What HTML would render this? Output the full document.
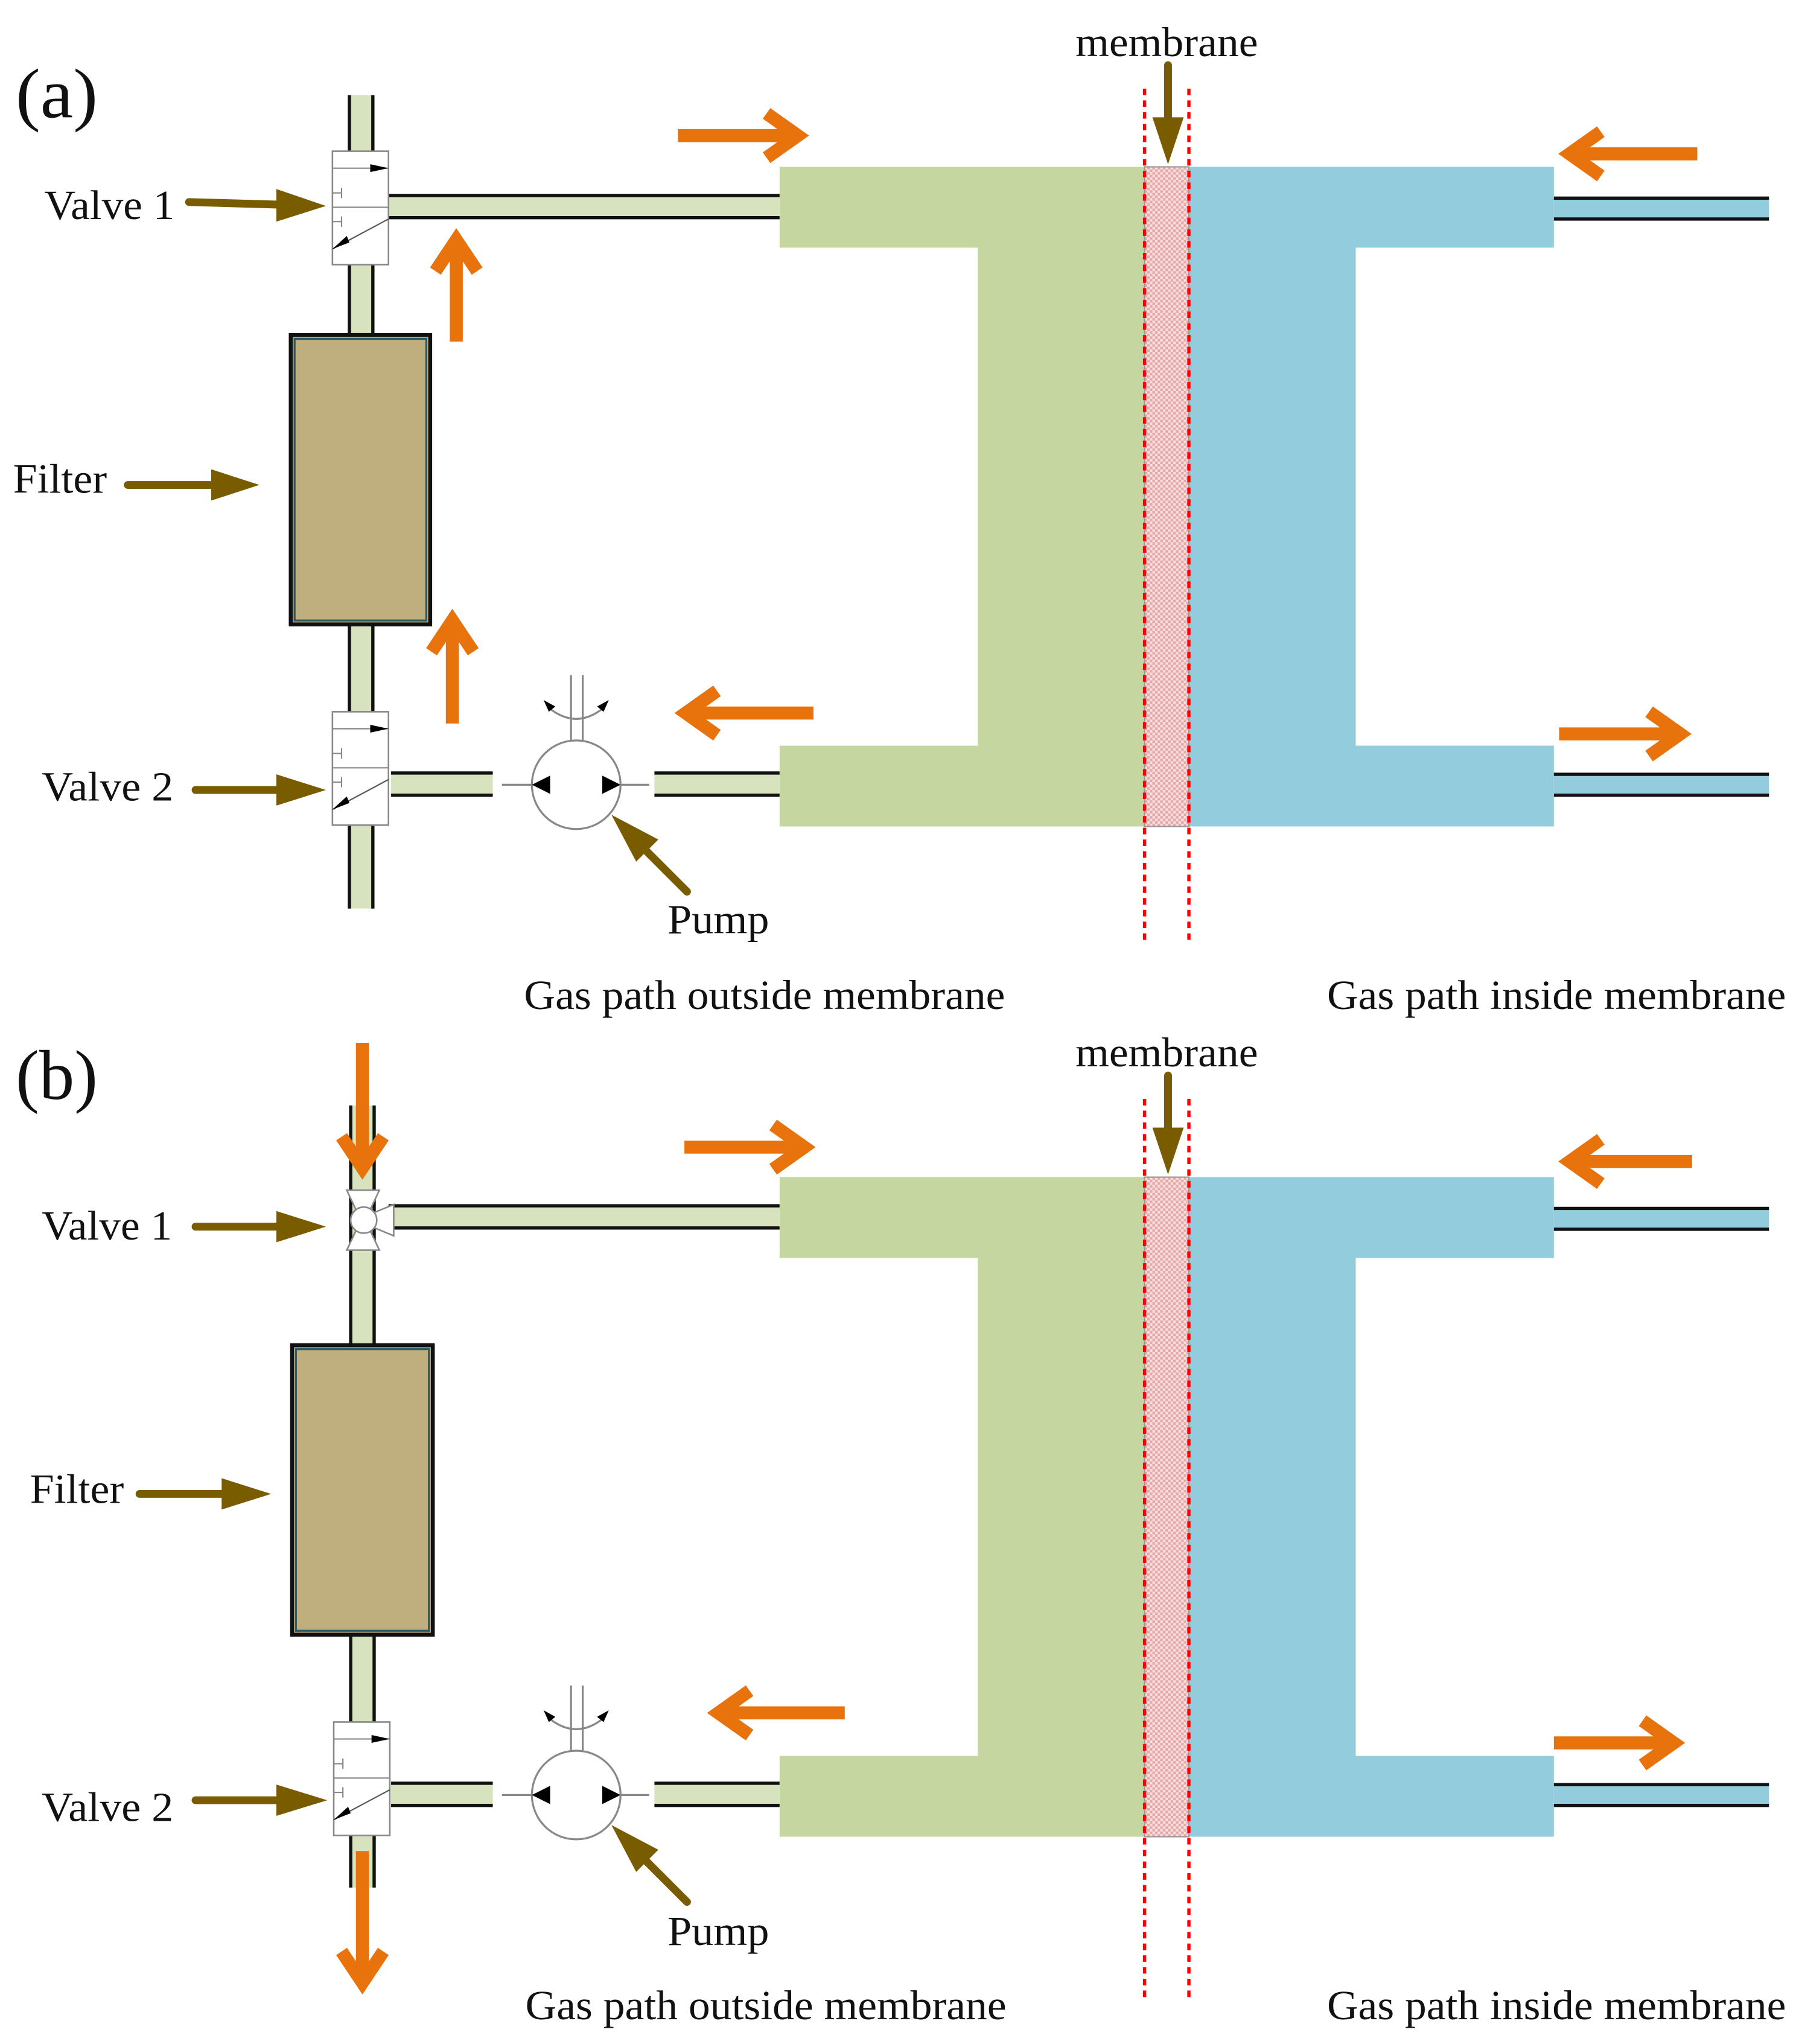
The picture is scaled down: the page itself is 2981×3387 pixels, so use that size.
<!DOCTYPE html>
<html><head><meta charset="utf-8"><style>html,body{margin:0;padding:0;background:#fff}svg{display:block}</style></head>
<body>
<svg width="2981" height="3387" viewBox="0 0 1380 1568" xmlns="http://www.w3.org/2000/svg" font-family="Liberation Serif, serif">
<defs>
<pattern id="hatch" width="4" height="4" patternUnits="userSpaceOnUse">
<rect width="4" height="4" fill="#f6dede"/><rect width="2" height="2" fill="#e6a8a8"/><rect x="2" y="2" width="2" height="2" fill="#e6a8a8"/>
</pattern>
<g id="common">
 <path d="M598 128 H878 V634 H598 V572 H750 V190 H598 Z" fill="#c5d6a0"/>
 <path d="M912 128 H1192 V190 H1040 V572 H1192 V634 H912 Z" fill="#93cddd"/>
 <rect x="878" y="128" width="34" height="506" fill="url(#hatch)" stroke="#999" stroke-width="1"/>
 <rect x="1192" y="152" width="165" height="16" fill="#93cddd"/>
 <line x1="1192" y1="152" x2="1357" y2="152" stroke="#111" stroke-width="2.5"/>
 <line x1="1192" y1="168" x2="1357" y2="168" stroke="#111" stroke-width="2.5"/>
 <rect x="1192" y="594" width="165" height="16" fill="#93cddd"/>
 <line x1="1192" y1="594" x2="1357" y2="594" stroke="#111" stroke-width="2.5"/>
 <line x1="1192" y1="610" x2="1357" y2="610" stroke="#111" stroke-width="2.5"/>
 <rect x="298" y="150" width="300" height="17" fill="#d7e3bf"/>
 <line x1="298" y1="150" x2="598" y2="150" stroke="#111" stroke-width="2.5"/>
 <line x1="298" y1="167" x2="598" y2="167" stroke="#111" stroke-width="2.5"/>
 <rect x="300" y="593" width="78" height="17" fill="#d7e3bf"/>
 <line x1="300" y1="593" x2="378" y2="593" stroke="#111" stroke-width="2.5"/>
 <line x1="300" y1="610" x2="378" y2="610" stroke="#111" stroke-width="2.5"/>
 <rect x="502" y="593" width="96" height="17" fill="#d7e3bf"/>
 <line x1="502" y1="593" x2="598" y2="593" stroke="#111" stroke-width="2.5"/>
 <line x1="502" y1="610" x2="598" y2="610" stroke="#111" stroke-width="2.5"/>
 <line x1="385" y1="602" x2="498" y2="602" stroke="#888" stroke-width="1.5"/>
 <circle cx="442" cy="602" r="34" fill="#fff" stroke="#888" stroke-width="1.5"/>
 <path d="M408 602 L422 595 L422 609 Z" fill="#000"/>
 <path d="M476 602 L462 595 L462 609 Z" fill="#000"/>
 <line x1="438" y1="568" x2="438" y2="518" stroke="#888" stroke-width="1.5"/>
 <line x1="447" y1="568" x2="447" y2="518" stroke="#888" stroke-width="1.5"/>
 <path d="M421 543 Q442 560 463 543" fill="none" stroke="#888" stroke-width="1.5"/>
 <path d="M417 537 L426 542 L421 546 Z" fill="#000"/>
 <path d="M467 537 L458 542 L463 546 Z" fill="#000"/>
 <g stroke="#7a5c00" stroke-width="6" stroke-linecap="round" fill="#7a5c00">
  <line x1="896" y1="50" x2="896" y2="92"/>
  <line x1="527" y1="684" x2="490" y2="647"/>
 </g>
 <path d="M884 90 L908 90 L896 126 Z" fill="#7a5c00"/>
 <path d="M469 625 L505 644 L488 661 Z" fill="#7a5c00"/>
</g>
<g id="valveA">
 <rect x="255" y="116" width="43" height="87" fill="#fff" stroke="#888" stroke-width="1.2"/>
 <line x1="255" y1="129" x2="298" y2="129" stroke="#888" stroke-width="1"/>
 <path d="M298 129 L284 126 L284 132 Z" fill="#000"/>
 <line x1="255" y1="159" x2="298" y2="159" stroke="#888" stroke-width="1"/>
 <line x1="255" y1="148" x2="262" y2="148" stroke="#888" stroke-width="1"/><line x1="262" y1="144" x2="262" y2="152" stroke="#888" stroke-width="1"/>
 <line x1="255" y1="170" x2="262" y2="170" stroke="#888" stroke-width="1"/><line x1="262" y1="166" x2="262" y2="174" stroke="#888" stroke-width="1"/>
 <line x1="298" y1="168" x2="255" y2="191" stroke="#555" stroke-width="1"/>
 <path d="M255 191 L266 181 L268 186 Z" fill="#000"/>
</g>
</defs>

<!-- ============ PANEL A ============ -->
<rect x="268" y="73" width="18" height="624" fill="#d7e3bf"/>
<line x1="268" y1="73" x2="268" y2="697" stroke="#111" stroke-width="2.5"/>
<line x1="286" y1="73" x2="286" y2="697" stroke="#111" stroke-width="2.5"/>
<use href="#common"/>
<line x1="878" y1="68" x2="878" y2="724" stroke="#f00" stroke-width="2.5" stroke-dasharray="5,4"/>
<line x1="912" y1="68" x2="912" y2="724" stroke="#f00" stroke-width="2.5" stroke-dasharray="5,4"/>
<use href="#valveA"/>
<use href="#valveA" transform="translate(0,430)"/>
<rect x="223" y="257" width="107" height="222" fill="#bfae7e" stroke="#111" stroke-width="3"/>
<rect x="226" y="260" width="101" height="216" fill="none" stroke="#2a5a66" stroke-width="1.5"/>

<g stroke="#7a5c00" stroke-width="6" stroke-linecap="round">
 <line x1="145" y1="155" x2="215" y2="157"/>
 <line x1="98" y1="372" x2="165" y2="372"/>
 <line x1="150" y1="606" x2="215" y2="606"/>
</g>
<path d="M212 145 L250 158 L212 170 Z" fill="#7a5c00"/>
<path d="M162 360 L199 372 L162 384 Z" fill="#7a5c00"/>
<path d="M212 594 L250 606 L212 618 Z" fill="#7a5c00"/>

<g stroke="#e8720c" stroke-width="10" fill="none" stroke-linejoin="miter">
 <line x1="520" y1="104" x2="612" y2="104"/><polyline points="588,87 612,104 588,121"/>
 <line x1="350" y1="262" x2="350" y2="184"/><polyline points="334,208 350,184 366,208"/>
 <line x1="347" y1="555" x2="347" y2="476"/><polyline points="331,500 347,476 363,500"/>
 <line x1="624" y1="547" x2="526" y2="547"/><polyline points="550,530 526,547 550,564"/>
 <line x1="1302" y1="118" x2="1204" y2="118"/><polyline points="1228,101 1204,118 1228,135"/>
 <line x1="1196" y1="563" x2="1289" y2="563"/><polyline points="1265,546 1289,563 1265,580"/>
</g>

<g fill="#111" font-size="32">
<text x="12" y="90" font-size="54" textLength="63" lengthAdjust="spacingAndGlyphs">(a)</text>
<text x="825" y="43" textLength="140" lengthAdjust="spacingAndGlyphs">membrane</text>
<text x="34" y="168" textLength="100" lengthAdjust="spacingAndGlyphs">Valve 1</text>
<text x="10" y="378" textLength="72" lengthAdjust="spacingAndGlyphs">Filter</text>
<text x="32" y="614" textLength="101" lengthAdjust="spacingAndGlyphs">Valve 2</text>
<text x="512" y="716" textLength="78" lengthAdjust="spacingAndGlyphs">Pump</text>
<text x="402" y="774" textLength="369" lengthAdjust="spacingAndGlyphs">Gas path outside membrane</text>
<text x="1018" y="774" textLength="352" lengthAdjust="spacingAndGlyphs">Gas path inside membrane</text>
</g>

<!-- ============ PANEL B ============ -->
<rect x="269" y="848" width="18" height="600" fill="#d7e3bf"/>
<line x1="269" y1="848" x2="269" y2="1448" stroke="#111" stroke-width="2.5"/>
<line x1="287" y1="848" x2="287" y2="1448" stroke="#111" stroke-width="2.5"/>
<g transform="translate(0,775)"><use href="#common"/></g>
<line x1="878" y1="843" x2="878" y2="1535" stroke="#f00" stroke-width="2.5" stroke-dasharray="5,4"/>
<line x1="912" y1="843" x2="912" y2="1535" stroke="#f00" stroke-width="2.5" stroke-dasharray="5,4"/>
<use href="#valveA" transform="translate(1,1205)"/>
<g fill="#fff" stroke="#888" stroke-width="1.2">
 <path d="M266 913 L291 913 L283 930 L274 930 Z"/>
 <path d="M266 959 L291 959 L283 942 L274 942 Z"/>
 <path d="M302 924 L302 948 L285 941 L285 931 Z"/>
 <circle cx="279" cy="936" r="10"/>
</g>
<rect x="224" y="1032" width="108" height="222" fill="#bfae7e" stroke="#111" stroke-width="3"/>
<rect x="227" y="1035" width="102" height="216" fill="none" stroke="#2a5a66" stroke-width="1.5"/>

<g stroke="#7a5c00" stroke-width="6" stroke-linecap="round">
 <line x1="150" y1="941" x2="215" y2="941"/>
 <line x1="107" y1="1146" x2="172" y2="1146"/>
 <line x1="150" y1="1381" x2="215" y2="1381"/>
</g>
<path d="M212 929 L250 941 L212 953 Z" fill="#7a5c00"/>
<path d="M170 1134 L208 1146 L170 1158 Z" fill="#7a5c00"/>
<path d="M212 1369 L251 1381 L212 1393 Z" fill="#7a5c00"/>

<g stroke="#e8720c" stroke-width="10" fill="none" stroke-linejoin="miter">
 <line x1="525" y1="880" x2="617" y2="880"/><polyline points="593,863 617,880 593,897"/>
 <line x1="648" y1="1314" x2="551" y2="1314"/><polyline points="575,1297 551,1314 575,1331"/>
 <line x1="1298" y1="891" x2="1204" y2="891"/><polyline points="1228,874 1204,891 1228,908"/>
 <line x1="1192" y1="1337" x2="1284" y2="1337"/><polyline points="1260,1320 1284,1337 1260,1354"/>
 <line x1="278" y1="800" x2="278" y2="896"/><polyline points="262,872 278,896 294,872"/>
 <line x1="278" y1="1420" x2="278" y2="1521"/><polyline points="262,1497 278,1521 294,1497"/>
</g>

<g fill="#111" font-size="32">
<text x="12" y="843" font-size="54" textLength="63" lengthAdjust="spacingAndGlyphs">(b)</text>
<text x="825" y="818" textLength="140" lengthAdjust="spacingAndGlyphs">membrane</text>
<text x="32" y="951" textLength="100" lengthAdjust="spacingAndGlyphs">Valve 1</text>
<text x="23" y="1153" textLength="72" lengthAdjust="spacingAndGlyphs">Filter</text>
<text x="32" y="1397" textLength="101" lengthAdjust="spacingAndGlyphs">Valve 2</text>
<text x="512" y="1492" textLength="78" lengthAdjust="spacingAndGlyphs">Pump</text>
<text x="403" y="1549" textLength="369" lengthAdjust="spacingAndGlyphs">Gas path outside membrane</text>
<text x="1018" y="1549" textLength="352" lengthAdjust="spacingAndGlyphs">Gas path inside membrane</text>
</g>
</svg>
</body></html>
